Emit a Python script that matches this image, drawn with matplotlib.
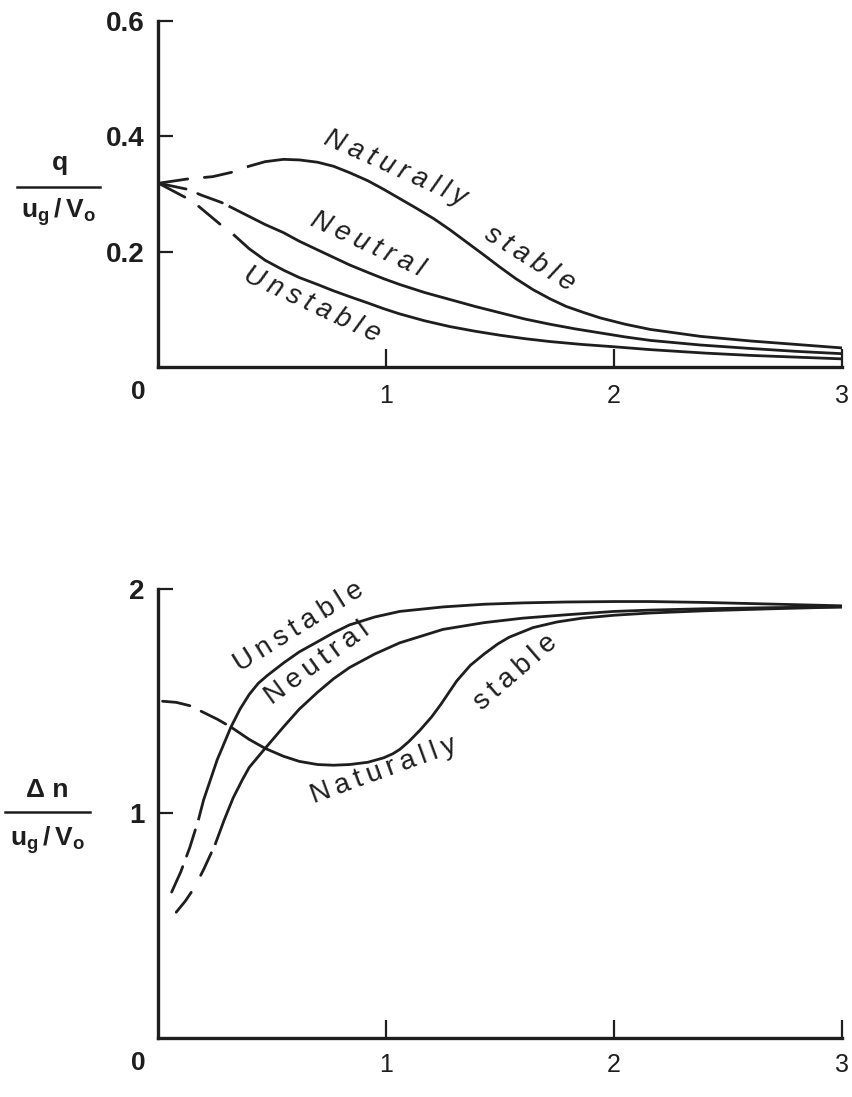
import matplotlib.pyplot as plt
from matplotlib.lines import Line2D

plt.rcParams['font.family'] = ['Liberation Sans', 'DejaVu Sans']
plt.rcParams['mathtext.fontset'] = 'custom'
plt.rcParams['mathtext.rm'] = 'Liberation Sans'
plt.rcParams['mathtext.bf'] = 'Liberation Sans:bold'
plt.rcParams['lines.scale_dashes'] = False

INK = '#1e1e1e'

# --- upper panel: q / (u_g/V_o) ---
q_nat_x = [0.01, 0.13, 0.24, 0.35, 0.39, 0.47, 0.55, 0.62, 0.70, 0.77, 0.84, 0.92,
           0.99, 1.06, 1.13, 1.21, 1.28, 1.355, 1.43, 1.50, 1.57, 1.645, 1.72,
           1.79, 1.87, 1.94, 2.05, 2.16, 2.38, 2.6, 2.8, 3.0]
q_nat_y = [0.319, 0.326, 0.330, 0.340, 0.347, 0.356, 0.360, 0.359, 0.355, 0.348,
           0.337, 0.323, 0.308, 0.292, 0.276, 0.257, 0.238, 0.216, 0.194, 0.173,
           0.153, 0.134, 0.118, 0.105, 0.094, 0.085, 0.074, 0.065, 0.053, 0.045,
           0.039, 0.033]

q_neu_x = [0.01, 0.13, 0.19, 0.28, 0.31, 0.40, 0.47, 0.55, 0.62, 0.70, 0.77, 0.84,
           0.92, 0.99, 1.06, 1.17, 1.28, 1.39, 1.50, 1.61, 1.72, 1.83, 1.94, 2.05,
           2.16, 2.38, 2.6, 2.8, 3.0]
q_neu_y = [0.318, 0.308, 0.298, 0.285, 0.279, 0.261, 0.247, 0.233, 0.218, 0.203,
           0.190, 0.177, 0.164, 0.153, 0.143, 0.129, 0.117, 0.105, 0.094, 0.083,
           0.074, 0.066, 0.059, 0.052, 0.046, 0.038, 0.032, 0.027, 0.023]

q_uns_x = [0.01, 0.12, 0.18, 0.28, 0.33, 0.40, 0.47, 0.55, 0.62, 0.70, 0.77, 0.84,
           0.92, 0.99, 1.06, 1.17, 1.28, 1.39, 1.50, 1.61, 1.72, 1.86, 2.0, 2.16,
           2.4, 2.6, 2.8, 3.0]
q_uns_y = [0.317, 0.294, 0.278, 0.245, 0.230, 0.205, 0.185, 0.168, 0.155, 0.143,
           0.132, 0.122, 0.111, 0.101, 0.092, 0.080, 0.070, 0.062, 0.055, 0.049,
           0.044, 0.039, 0.035, 0.030, 0.024, 0.020, 0.017, 0.014]

# --- lower panel: delta n / (u_g/V_o) ---
n_uns_x = [0.06, 0.10, 0.14, 0.177, 0.20, 0.23, 0.26, 0.285, 0.32, 0.36, 0.40, 0.44,
           0.48, 0.55, 0.62, 0.70, 0.77, 0.84, 0.95, 1.06, 1.25, 1.43, 1.6, 1.79,
           2.0, 2.16, 2.4, 2.6, 2.8, 3.0]
n_uns_y = [0.65, 0.74, 0.85, 0.97, 1.06, 1.15, 1.24, 1.30, 1.385, 1.465, 1.53,
           1.58, 1.615, 1.67, 1.72, 1.765, 1.805, 1.84, 1.875, 1.90, 1.92, 1.932,
           1.938, 1.942, 1.944, 1.944, 1.94, 1.935, 1.93, 1.925]

n_neu_x = [0.08, 0.12, 0.16, 0.20, 0.25, 0.29, 0.33, 0.37, 0.40, 0.47, 0.55, 0.62,
           0.70, 0.77, 0.84, 0.95, 1.06, 1.25, 1.43, 1.6, 1.79, 2.0, 2.16, 2.4,
           2.7, 3.0]
n_neu_y = [0.56, 0.61, 0.67, 0.75, 0.86, 0.97, 1.07, 1.15, 1.205, 1.29, 1.385, 1.465,
           1.54, 1.60, 1.65, 1.71, 1.76, 1.82, 1.85, 1.87, 1.885, 1.90, 1.906,
           1.912, 1.917, 1.92]

n_nat_x = [0.02, 0.08, 0.14, 0.20, 0.26, 0.32, 0.40, 0.47, 0.55, 0.62, 0.70, 0.77,
           0.84, 0.92, 0.99, 1.03, 1.06, 1.10, 1.15, 1.20, 1.24, 1.28, 1.31, 1.37,
           1.43, 1.49, 1.54, 1.645, 1.75, 1.86, 2.0, 2.16, 2.4, 2.7, 3.0]
n_nat_y = [1.50, 1.495, 1.48, 1.45, 1.42, 1.385, 1.33, 1.29, 1.255, 1.232, 1.218,
           1.215, 1.218, 1.228, 1.248, 1.266, 1.285, 1.32, 1.372, 1.43, 1.485,
           1.545, 1.59, 1.66, 1.71, 1.755, 1.785, 1.828, 1.853, 1.87, 1.883,
           1.893, 1.903, 1.912, 1.92]

# x where each curve turns from dashed to solid
q_nat_solid, q_neu_solid, q_uns_solid = 0.39, 0.31, 0.33
n_uns_solid, n_neu_solid, n_nat_solid = 0.177, 0.25, 0.32


def draw_curve(ax, xs, ys, x_solid, dashes):
    dx = [x for x in xs if x <= x_solid]
    dy = [y for x, y in zip(xs, ys) if x <= x_solid]
    sx = [x for x in xs if x >= x_solid]
    sy = [y for x, y in zip(xs, ys) if x >= x_solid]
    ax.plot(dx, dy, color=INK, lw=2.0, linestyle=(0, dashes),
            dash_capstyle='round', clip_on=False)
    ax.plot(sx, sy, color=INK, lw=2.0, solid_capstyle='butt',
            solid_joinstyle='round', clip_on=False)


def style_axes(ax, ymax, yticks, ylabels, xpad):
    ax.set_xlim(0, 3)
    ax.set_ylim(0, ymax)
    for s in ('top', 'right'):
        ax.spines[s].set_visible(False)
    for s in ('left', 'bottom'):
        ax.spines[s].set_linewidth(2.4)
        ax.spines[s].set_color(INK)
    ax.set_xticks([1, 2, 3])
    ax.set_xticklabels(['1', '2', '3'], fontsize=18)
    ax.set_yticks(yticks)
    ax.set_yticklabels(ylabels, fontsize=20, fontweight='bold')
    ax.tick_params(axis='x', direction='in', length=13, width=1.6,
                   color=INK, labelcolor=INK, pad=xpad)
    ax.tick_params(axis='y', direction='in', length=11, width=1.6,
                   color=INK, labelcolor=INK, pad=9.5)
    ax.annotate('0', xy=(0, 0), xycoords='data', xytext=(-20, -25),
                textcoords='offset pixels', ha='center', va='center',
                fontsize=19, fontweight='bold', color=INK,
                annotation_clip=False)


def label(ax, x, y, text, rot, style='normal'):
    spaced = '\u2009'.join(text)
    ax.text(x, y, spaced, rotation=rot, rotation_mode='anchor', ha='center',
            va='center', fontsize=20, style=style, color=INK)


fig = plt.figure(figsize=(8.53, 10.97), dpi=100)
ax_q = fig.add_axes([0.1852, 0.6655, 0.8019, 0.3154])
ax_n = fig.add_axes([0.1852, 0.0538, 0.8019, 0.4093])

style_axes(ax_q, 0.6, [0.2, 0.4, 0.6], ['0.2', '0.4', '0.6'], 12)
style_axes(ax_n, 2.0, [1, 2], ['1', '2'], 11)

draw_curve(ax_q, q_nat_x, q_nat_y, q_nat_solid, (20, 12))
draw_curve(ax_q, q_neu_x, q_neu_y, q_neu_solid, (19, 9))
draw_curve(ax_q, q_uns_x, q_uns_y, q_uns_solid, (20, 12))

draw_curve(ax_n, n_uns_x, n_uns_y, n_uns_solid, (20, 8))
draw_curve(ax_n, n_neu_x, n_neu_y, n_neu_solid, (18, 14))
draw_curve(ax_n, n_nat_x, n_nat_y, n_nat_solid, (20, 9))

# curve names
label(ax_q, 1.04, 0.345, 'Naturally', -24, 'italic')
label(ax_q, 1.63, 0.188, 'stable', -32, 'italic')
label(ax_q, 0.92, 0.212, 'Neutral', -25, 'italic')
label(ax_q, 0.675, 0.108, 'Unstable', -25, 'italic')

label(ax_n, 0.62, 1.83, 'Unstable', 32)
label(ax_n, 0.70, 1.67, 'Neutral', 36)
label(ax_n, 0.99, 1.19, 'Naturally', 20)
label(ax_n, 1.57, 1.63, 'stable', 41)

# y axis fractions
fig.text(0.070, 0.851, 'q', ha='center', va='center', fontsize=19,
         fontweight='bold', color=INK)
fig.add_artist(Line2D([0.020, 0.117], [0.8295, 0.8295],
                      transform=fig.transFigure, color=INK, lw=1.8))
fig.text(0.068, 0.8067, r'$\mathbf{u_g\,/\,V_o}$', ha='center', va='center',
         fontsize=19, color=INK)

fig.text(0.055, 0.2799, 'Δ n', ha='center', va='center', fontsize=19,
         fontweight='bold', color=INK)
fig.add_artist(Line2D([0.006, 0.1055], [0.2598, 0.2598],
                      transform=fig.transFigure, color=INK, lw=1.8))
fig.text(0.055, 0.2343, r'$\mathbf{u_g\,/\,V_o}$', ha='center', va='center',
         fontsize=19, color=INK)

fig.savefig('out.png', dpi=100)
